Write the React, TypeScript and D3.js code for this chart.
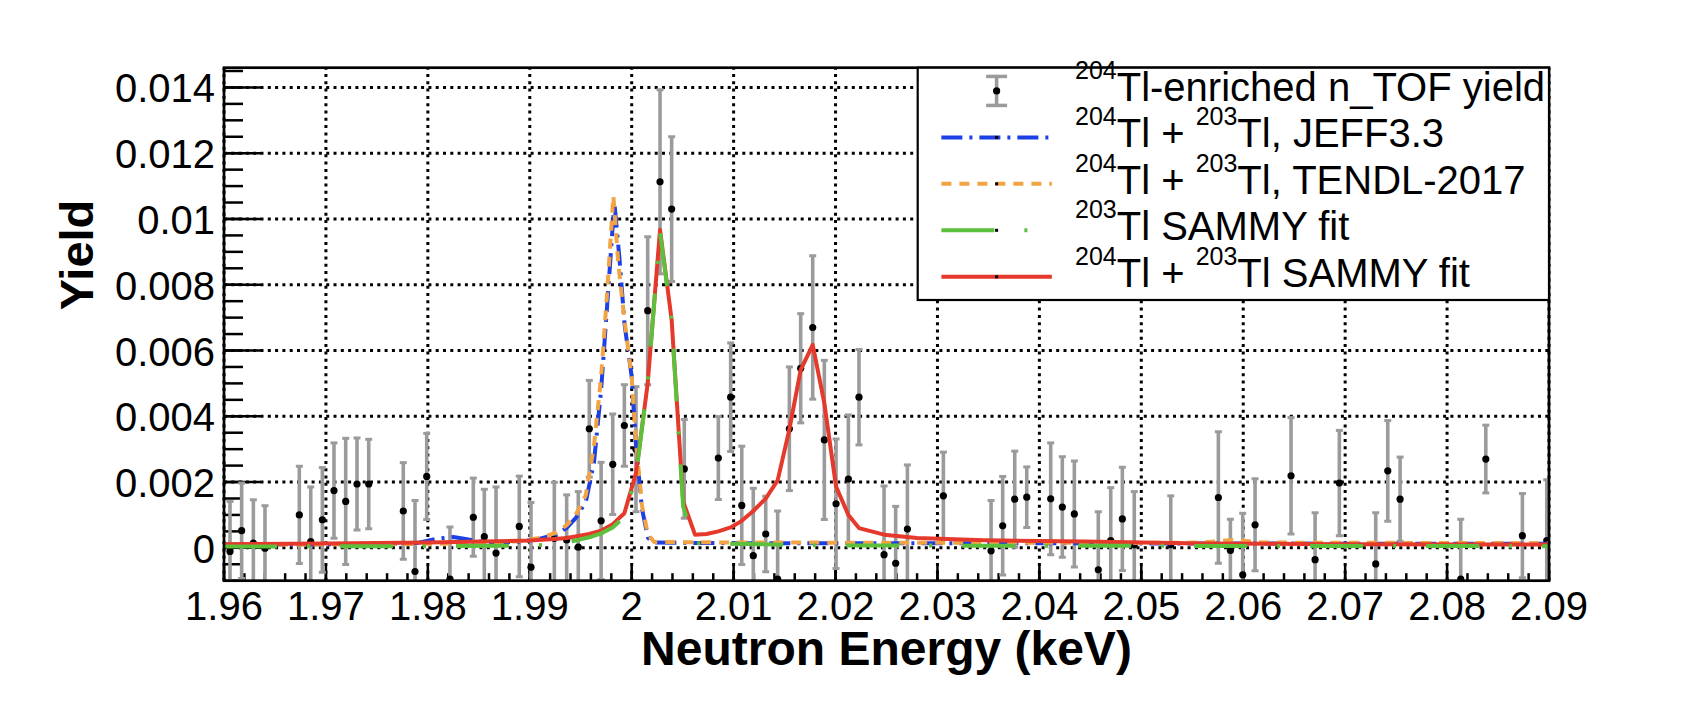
import * as d3 from "d3";

// axis ticks
const X_TICKS = [1.96, 1.97, 1.98, 1.99, 2.0, 2.01, 2.02, 2.03, 2.04, 2.05, 2.06, 2.07, 2.08, 2.09];
const X_TICK_LABELS = ["1.96", "1.97", "1.98", "1.99", "2", "2.01", "2.02", "2.03", "2.04", "2.05", "2.06", "2.07", "2.08", "2.09"];
const Y_TICKS = [0, 0.002, 0.004, 0.006, 0.008, 0.01, 0.012, 0.014];
const Y_TICK_LABELS = ["0", "0.002", "0.004", "0.006", "0.008", "0.01", "0.012", "0.014"];

// n_TOF yield points (keV, yield, error)
const DATA_E = [
  1.96059, 1.96173, 1.96288, 1.96402, 1.96739,
  1.96851, 1.96965, 1.97079, 1.97194, 1.97305,
  1.9742, 1.97759, 1.97874, 1.97989, 1.98217,
  1.98446, 1.98554, 1.98669, 1.98897, 1.99012,
  1.99241, 1.99362, 1.99476, 1.99584, 1.997,
  1.99814, 1.99928, 2.00042, 2.00157, 2.00278,
  2.00392, 2.00516, 2.0085, 2.00971, 2.0108,
  2.01193, 2.01315, 2.01432, 2.01547, 2.01658,
  2.01776, 2.0189, 2.02005, 2.02126, 2.0223,
  2.02476, 2.0259, 2.02705, 2.03058, 2.03526,
  2.0364, 2.03758, 2.03876, 2.04111, 2.04225,
  2.04343, 2.04578, 2.047, 2.04814, 2.04931,
  2.05289, 2.05756, 2.05874, 2.05995, 2.06116,
  2.06469, 2.06705, 2.06943, 2.073, 2.07418,
  2.07539, 2.08134, 2.0838, 2.08739, 2.08978,
];
const DATA_Y = [
  -0.00011, 0.00052, 0.00014, -0.00001, 0.001,
  0.00019, 0.00085, 0.00174, 0.00141, 0.00194,
  0.00194, 0.00112, -0.00072, 0.00217, -0.00095,
  0.00093, 0.00034, -0.00016, 0.00065, -0.00059,
  0.00029, 0.00024, 0.00002, 0.00362, 0.00082,
  0.00254, 0.00372, 0.003, 0.00721, 0.01113,
  0.0103, 0.0024, 0.00273, 0.00458, 0.00129,
  -0.00024, 0.00042, -0.00095, 0.00362, 0.00546,
  0.0067, 0.00328, 0.00134, 0.00209, 0.00458,
  -0.00021, -0.00047, 0.00057, 0.00158, -0.00009,
  0.00067, 0.00148, 0.00154, 0.00149, 0.00124,
  0.00103, -0.00067, 0.00022, 0.00088, 0.00009,
  0.0001, 0.00153, -0.00008, -0.00082, 0.0007,
  0.00219, -0.00036, 0.00197, -0.00049, 0.00234,
  0.00148, -0.00095, 0.0027, 0.00037, 0.00022,
];
const DATA_ERR = [
  0.00152, 0.00145, 0.00132, 0.00129, 0.00148,
  0.00166, 0.00159, 0.00145, 0.00192, 0.0014,
  0.00136, 0.00147, 0.00216, 0.00131, 0.00158,
  0.00119, 0.00144, 0.00201, 0.00153, 0.00197,
  0.0017, 0.00137, 0.00169, 0.00147, 0.00178,
  0.00153, 0.00124, 0.0019, 0.00225, 0.0028,
  0.0022, 0.0015, 0.00126, 0.00165, 0.0018,
  0.00205, 0.00115, 0.00207, 0.00188, 0.00166,
  0.00218, 0.00242, 0.00197, 0.00195, 0.00145,
  0.00209, 0.00173, 0.00195, 0.00133, 0.00153,
  0.0015, 0.00146, 0.00092, 0.0017, 0.00153,
  0.00161, 0.00177, 0.00161, 0.00157, 0.00162,
  0.00148, 0.002, 0.00095, 0.00187, 0.0014,
  0.00177, 0.00143, 0.0016, 0.00156, 0.00153,
  0.00128, 0.00182, 0.00103, 0.00128, 0.00185,
];

// 204Tl + 203Tl JEFF3.3
const JEFF_E = [1.96, 1.975, 1.979, 1.981, 1.9825, 1.984, 1.986, 1.989, 1.991, 1.9925, 1.9936, 1.9945, 1.9955, 1.9963, 1.997, 1.9976, 1.9983, 1.9988, 1.9993, 2.0, 2.0004, 2.001, 2.0016, 2.0022, 2.01, 2.03, 2.06, 2.09];
const JEFF_Y = [0.0001, 0.00011, 0.00015, 0.00028, 0.00033, 0.00025, 0.00016, 0.00018, 0.00028, 0.0004, 0.0006, 0.0009, 0.0014, 0.0026, 0.0048, 0.0074, 0.0105, 0.0088, 0.0068, 0.0052, 0.0032, 0.0012, 0.0003, 0.00016, 0.00014, 0.00014, 0.00013, 0.00012];

// 204Tl + 203Tl TENDL-2017
const TENDL_E = [1.96, 1.98, 1.985, 1.989, 1.991, 1.9925, 1.9936, 1.9945, 1.9955, 1.9963, 1.997, 1.9976, 1.9982, 1.9987, 1.9993, 2.0, 2.0004, 2.001, 2.0016, 2.0022, 2.01, 2.05, 2.056, 2.059, 2.062, 2.09];
const TENDL_Y = [0.00009, 0.00012, 0.00015, 0.0002, 0.0003, 0.00045, 0.00068, 0.001, 0.0016, 0.0031, 0.0052, 0.0078, 0.0107, 0.0086, 0.0069, 0.0052, 0.0033, 0.0013, 0.0004, 0.00018, 0.00016, 0.00015, 0.00016, 0.00024, 0.00016, 0.00014];

// 203Tl SAMMY fit
const FIT203_E = [1.96, 1.98, 1.99, 1.99241, 1.99362, 1.99476, 1.99584, 1.997, 1.99814, 1.99928, 2.00042, 2.00157, 2.00278, 2.00392, 2.00505, 2.00621, 2.02, 2.05, 2.09];
const FIT203_Y = [0.00004, 0.00005, 0.00007, 0.0001, 0.00017, 0.00024, 0.00032, 0.00044, 0.00062, 0.00095, 0.0022, 0.005, 0.0096, 0.0069, 0.00125, 0.00014, 0.00007, 0.00006, 0.00005];

// 204Tl + 203Tl SAMMY fit
const FIT_E = [1.96, 1.97, 1.98, 1.99, 1.99241, 1.99362, 1.99476, 1.99584, 1.997, 1.99814, 1.99928, 2.00042, 2.00157, 2.00278, 2.00392, 2.00505, 2.00621, 2.00735, 2.0085, 2.00971, 2.0108, 2.01193, 2.01315, 2.01432, 2.01547, 2.01658, 2.01776, 2.0189, 2.02005, 2.02126, 2.0223, 2.02476, 2.028, 2.0346, 2.0444, 2.056, 2.07, 2.09];
const FIT_Y = [0.00011, 0.00013, 0.00016, 0.00022, 0.00027, 0.0003, 0.00036, 0.00042, 0.00052, 0.00072, 0.00105, 0.00227, 0.005, 0.00967, 0.00693, 0.00141, 0.0004, 0.00042, 0.0005, 0.00062, 0.00082, 0.00112, 0.0015, 0.00205, 0.0036, 0.00541, 0.00617, 0.0044, 0.00186, 0.001, 0.0006, 0.0004, 0.0003, 0.00023, 0.00019, 0.00013, 0.00011, 0.0001];

const LEGEND_LABELS = [
  "^{204}Tl-enriched n_TOF yield",
  "^{204}Tl + ^{203}Tl, JEFF3.3",
  "^{204}Tl + ^{203}Tl, TENDL-2017",
  "^{203}Tl SAMMY fit",
  "^{204}Tl + ^{203}Tl SAMMY fit",
];

const FONT = "'Liberation Sans', Arial, Helvetica, sans-serif";
const GREY = "#9b9b9b";

const CURVES = [
  { e: JEFF_E, v: JEFF_Y, color: "#1c3fe6", dash: "21 7 3 7" },
  { e: TENDL_E, v: TENDL_Y, color: "#f2a444", dash: "10 8" },
  { e: FIT_E, v: FIT_Y, color: "#e53a2b", dash: "" },
  { e: FIT203_E, v: FIT203_Y, color: "#5cc03c", dash: "53 30 3 30" },
];

function parseLabel(s: string) {
  const parts: { sup: boolean; t: string }[] = [];
  const re = /\^\{([^}]*)\}|([^^]+)/g;
  let m;
  while ((m = re.exec(s))) {
    if (m[1] !== undefined) parts.push({ sup: true, t: m[1] });
    else parts.push({ sup: false, t: m[2] });
  }
  return parts;
}

export default function App() {
  const L = 224, R = 1549, T = 67.7, B = 580.7;
  const x = d3.scaleLinear().domain([1.96, 2.09]).range([L, R]);
  const y = d3.scaleLinear().domain([-0.001, 0.0146]).range([B, T]);
  const xMinor = x.ticks(65);
  const yMinor = y.ticks(31);

  const line = d3
    .line<[number, number]>()
    .x((d) => x(d[0]))
    .y((d) => y(d[1]));

  // legend box
  const lgL = 917.7, lgT = T, lgR = R, lgB = 300;
  const rowH = (lgB - lgT) / LEGEND_LABELS.length;
  const symW = (lgR - lgL) * 0.25;
  const symC = lgL + symW / 2;
  const textX = 1075;

  return (
    <svg
      width={1704}
      height={718}
      style={{ position: "absolute", left: 0, top: 0, background: "#fff" }}
      fontFamily={FONT}
    >
      <defs>
        <clipPath id="plot">
          <rect x={L} y={T} width={R - L} height={B - T} />
        </clipPath>
      </defs>

      {/* grid */}
      <g stroke="#000" strokeWidth={3} strokeDasharray="3 4.3">
        {X_TICKS.map((v) => (
          <line key={"gx" + v} x1={x(v)} x2={x(v)} y1={B} y2={T} />
        ))}
        {Y_TICKS.map((v) => (
          <line key={"gy" + v} x1={L} x2={R} y1={y(v)} y2={y(v)} />
        ))}
      </g>

      {/* ticks */}
      <g stroke="#000" strokeWidth={2.5}>
        {xMinor.map((v) => (
          <line key={"mx" + v} x1={x(v)} x2={x(v)} y1={B} y2={B - 7.5} />
        ))}
        {X_TICKS.map((v) => (
          <line key={"tx" + v} x1={x(v)} x2={x(v)} y1={B} y2={B - 15} />
        ))}
        {yMinor.map((v) => (
          <line key={"my" + v} x1={L} x2={L + 19} y1={y(v)} y2={y(v)} />
        ))}
        {Y_TICKS.map((v) => (
          <line key={"ty" + v} x1={L} x2={L + 37} y1={y(v)} y2={y(v)} />
        ))}
      </g>

      {/* data with error bars */}
      <g clipPath="url(#plot)">
        {DATA_E.map((e, i) => {
          const cx = x(e);
          const lo = y(DATA_Y[i] - DATA_ERR[i]);
          const hi = y(DATA_Y[i] + DATA_ERR[i]);
          return (
            <g key={"d" + i}>
              <line x1={cx} x2={cx} y1={lo} y2={hi} stroke={GREY} strokeWidth={3.6} />
              <line x1={cx - 3.5} x2={cx + 3.5} y1={lo} y2={lo} stroke={GREY} strokeWidth={3} />
              <line x1={cx - 3.5} x2={cx + 3.5} y1={hi} y2={hi} stroke={GREY} strokeWidth={3} />
            </g>
          );
        })}
        {DATA_E.map((e, i) => (
          <circle key={"p" + i} cx={x(e)} cy={y(DATA_Y[i])} r={3.6} fill="#000" />
        ))}

        {CURVES.map((c, k) => (
          <path
            key={"c" + k}
            d={line(c.e.map((e, i) => [e, c.v[i]] as [number, number])) || ""}
            fill="none"
            stroke={c.color}
            strokeWidth={4}
            strokeDasharray={c.dash || undefined}
            strokeLinejoin="round"
          />
        ))}
      </g>

      {/* frame */}
      <rect x={L} y={T} width={R - L} height={B - T} fill="none" stroke="#000" strokeWidth={2.7} />

      {/* tick labels */}
      <g fontSize={40} fill="#000">
        {X_TICKS.map((v, i) => (
          <text key={"lx" + v} x={x(v)} y={620} textAnchor="middle">
            {X_TICK_LABELS[i]}
          </text>
        ))}
        {Y_TICKS.map((v, i) => (
          <text key={"ly" + v} x={215} y={y(v) + 15} textAnchor="end">
            {Y_TICK_LABELS[i]}
          </text>
        ))}
      </g>

      {/* axis titles */}
      <text x={(L + R) / 2} y={665} textAnchor="middle" fontSize={48} fontWeight="bold">
        Neutron Energy (keV)
      </text>
      <text transform="translate(92.7,255) rotate(-90)" textAnchor="middle" fontSize={47} fontWeight="bold">
        Yield
      </text>

      {/* legend */}
      <rect x={lgL} y={lgT} width={lgR - lgL} height={lgB - lgT} fill="#fff" stroke="#000" strokeWidth={2.2} />
      {LEGEND_LABELS.map((lab, i) => {
        const rc = lgT + rowH * (i + 0.5);
        const parts = parseLabel(lab);
        let up = false;
        const style = i === 0 ? null : CURVES[[0, 1, 3, 2][i - 1]];
        return (
          <g key={"lg" + i}>
            {style === null ? (
              <g>
                <line x1={symC} x2={symC} y1={rc - 14.5} y2={rc + 14.5} stroke={GREY} strokeWidth={3.6} />
                <line x1={symC - 10.5} x2={symC + 10.5} y1={rc - 14.5} y2={rc - 14.5} stroke={GREY} strokeWidth={3.5} />
                <line x1={symC - 10.5} x2={symC + 10.5} y1={rc + 14.5} y2={rc + 14.5} stroke={GREY} strokeWidth={3.5} />
                <circle cx={symC} cy={rc} r={3.6} fill="#000" />
              </g>
            ) : (
              <g>
                <line
                  x1={lgL + symW * 0.15}
                  x2={lgL + symW * 0.85}
                  y1={rc}
                  y2={rc}
                  stroke={style.color}
                  strokeWidth={4}
                  strokeDasharray={style.dash || undefined}
                />
                <rect x={symC - 1.5} y={rc - 1.5} width={3} height={3} fill="#000" />
              </g>
            )}
            <text x={textX} y={rc + 10} fontSize={40} style={{ whiteSpace: "pre" }}>
              {parts.map((p, j) => {
                let dy = 0;
                if (p.sup && !up) { dy = -22; up = true; }
                else if (!p.sup && up) { dy = 22; up = false; }
                return (
                  <tspan key={j} dy={dy} fontSize={p.sup ? 25 : 40}>
                    {p.t}
                  </tspan>
                );
              })}
            </text>
          </g>
        );
      })}
    </svg>
  );
}
